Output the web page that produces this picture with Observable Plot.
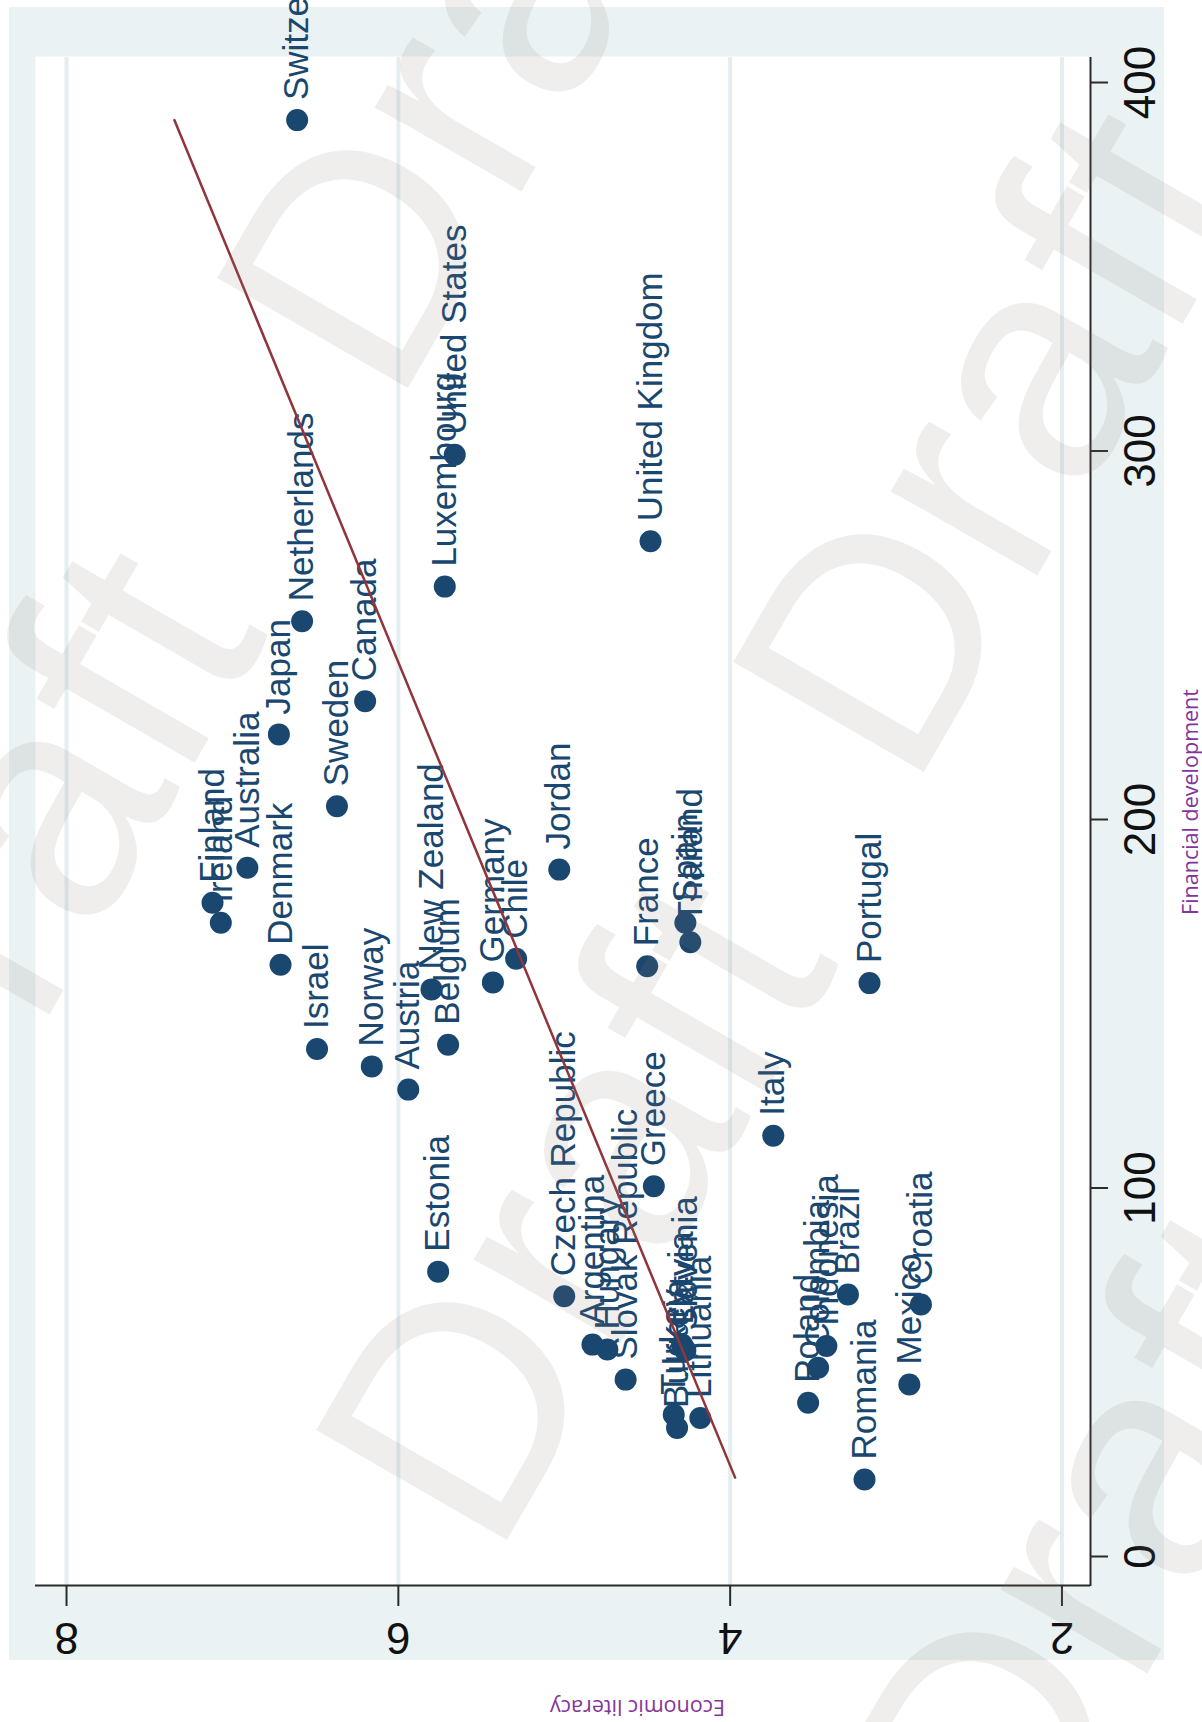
<!DOCTYPE html>
<html>
<head>
<meta charset="utf-8">
<script src="https://cdn.jsdelivr.net/npm/d3@7"></script>
<script src="https://cdn.jsdelivr.net/npm/@observablehq/plot@0.6"></script>
<style>
  html, body { margin: 0; padding: 0; background: #ffffff; }
  #stage { position: relative; width: 1202px; height: 1722px; overflow: hidden; background: #ffffff; }
  /* the scatter is laid out landscape and turned a quarter turn counter-clockwise */
  #chart { position: absolute; left: 0; top: 0; width: 1722px; height: 1202px;
           transform-origin: 0 0; transform: translate(0, 1722px) rotate(-90deg); }
  #graphregion { position: absolute; left: 62px; top: 9px; width: 1653px; height: 1155px; background: #eaf2f3; }
  #chart > svg { position: absolute; left: 0; top: 0; max-width: none; }
  #watermark { position: absolute; left: 0; top: 0; pointer-events: none; }
</style>
</head>
<body>
<div id="stage">
  <div id="chart"><div id="graphregion"></div></div>
  <svg id="watermark" width="1202" height="1722"></svg>
</div>
<script>
// Countries with their financial development and economic literacy scores
const countries = [
  "Switzerland", "Luxembourg", "United States", "United Kingdom", "Netherlands",
  "Japan", "Canada", "Sweden", "Australia", "Finland", "Ireland", "Denmark",
  "Jordan", "Germany", "Chile", "New Zealand", "Belgium", "Austria", "Norway",
  "Israel", "France", "Spain", "Thailand", "Portugal", "Czech Republic",
  "Argentina", "Hungary", "Slovak Republic", "Greece", "Slovenia", "Latvia",
  "Turkey", "Bulgaria", "Lithuania", "Estonia", "Italy", "Poland", "Colombia",
  "Indonesia", "Brazil", "Romania", "Mexico", "Croatia"
];
const finDev = [
  389.8, 263.2, 299.0, 275.5, 253.8,
  223.1, 232.1, 203.6, 186.9, 177.4, 172.0, 160.6,
  186.4, 155.8, 162.2, 153.9, 138.9, 126.7, 133.0,
  137.7, 160.2, 172.0, 166.7, 155.6, 70.6,
  57.5, 56.2, 48.0, 100.5, 55.9, 57.5,
  38.5, 34.9, 37.6, 77.3, 114.2, 41.7, 51.2,
  57.1, 71.1, 20.9, 46.7, 68.4
];
const econLit = [
  6.61, 5.72, 5.66, 4.48, 6.58,
  6.72, 6.20, 6.37, 6.91, 7.12, 7.07, 6.71,
  5.03, 5.43, 5.29, 5.80, 5.70, 5.94, 6.16,
  6.49, 4.50, 4.27, 4.24, 3.16, 5.00,
  4.83, 4.74, 4.63, 4.46, 4.27, 4.29,
  4.34, 4.32, 4.18, 5.76, 3.74, 3.53, 3.47,
  3.42, 3.29, 3.19, 2.92, 2.85
];

// Linear fit, drawn between its two end points
const fitFinDev = [21.4, 389.8];
const fitEconLit = [3.97, 7.35];

const xTicks = [0, 100, 200, 300, 400];
const yTicks = [2, 4, 6, 8];

const points = countries.map((name, i) => ({name, fd: finDev[i], lit: econLit[i]}));
const fit = fitFinDev.map((fd, i) => ({fd, lit: fitEconLit[i]}));

const xDomain = [-7.87, 407.06];
const yDomain = [1.828, 8.187];
const navy = "#1a476f";
const maroon = "#90353b";
const axisColor = "#2b2b2b";
const purple = "#84359b";

const plot = Plot.plot({
  width: 1722,
  height: 1202,
  marginLeft: 136,
  marginRight: 57,
  marginTop: 35,
  marginBottom: 112,
  style: {background: "transparent", fontFamily: "'Liberation Sans', Arial, sans-serif", color: "#111111"},
  x: {domain: xDomain},
  y: {domain: yDomain},
  marks: [
    Plot.frame({fill: "#ffffff", stroke: null}),
    Plot.ruleY(yTicks, {y: d => d, stroke: "#e4eef1", strokeWidth: 4}),
    Plot.ruleX([xDomain[0]], {stroke: axisColor, strokeWidth: 2}),
    Plot.ruleY([yDomain[0]], {stroke: axisColor, strokeWidth: 2}),
    Plot.axisX({ticks: xTicks, tickSize: 18, tickPadding: 15, fontSize: 44, label: null,
                tickFormat: d => String(d), stroke: axisColor, strokeWidth: 2}),
    Plot.axisY({ticks: yTicks, tickSize: 20, tickFormat: () => "", label: null,
                stroke: axisColor, strokeWidth: 2}),
    Plot.text(yTicks, {y: d => d, text: d => String(d), frameAnchor: "left", dx: -52, rotate: -90,
                       fontSize: 44, textAnchor: "middle", lineAnchor: "middle", fill: "#111111"}),
    Plot.dot(points, {x: "fd", y: "lit", r: 11, fill: navy, stroke: null}),
    Plot.text(points, {x: "fd", y: "lit", text: "name", dx: 20, textAnchor: "start",
                       lineAnchor: "middle", fill: navy, fontSize: 35}),
    Plot.line(fit, {x: "fd", y: "lit", stroke: maroon, strokeWidth: 2.5}),
    Plot.text(["Financial development"], {text: d => d, frameAnchor: "bottom", dx: 19, dy: 101,
                       fontFamily: "'Open Sans', sans-serif", fontSize: 21.5, fill: purple,
                       textAnchor: "middle", lineAnchor: "middle"}),
    Plot.text(["Economic literacy"], {text: d => d, frameAnchor: "left", dx: -121, dy: 74.5, rotate: -90,
                       fontFamily: "'Open Sans', sans-serif", fontSize: 21.5, fill: purple,
                       textAnchor: "middle", lineAnchor: "middle"})
  ]
});
document.getElementById("chart").appendChild(plot);

// "Draft" watermark laid over the page
const watermarkSpots = [[0, 878], [472, 55], [571, 1207], [988, 439], [1098, 1537]];
d3.select("#watermark").selectAll("text")
  .data(watermarkSpots)
  .join("text")
  .attr("transform", d => `translate(${d[0]},${d[1]}) rotate(-60)`)
  .attr("text-anchor", "middle")
  .attr("dominant-baseline", "central")
  .attr("font-family", "'Liberation Sans', Arial, sans-serif")
  .attr("font-size", 320)
  .attr("fill", "rgb(140,120,115)")
  .attr("fill-opacity", 0.13)
  .text("Draft");
</script>
</body>
</html>
